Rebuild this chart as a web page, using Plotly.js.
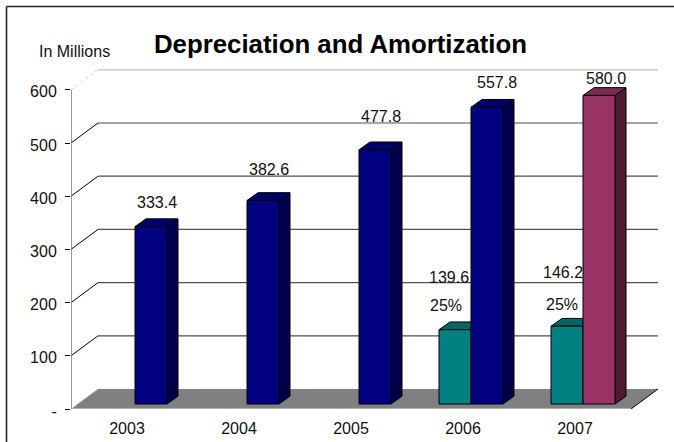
<!DOCTYPE html>
<html>
<head>
<meta charset="utf-8">
<script src="https://cdn.plot.ly/plotly-3.0.1.min.js"></script>
<style>html,body{margin:0;padding:0;background:#fff;overflow:hidden}</style>
</head>
<body>
<div id="chart" style="width:674px;height:442px"></div>
<script>
// Data
const years = ['2003', '2004', '2005', '2006', '2007'];
const totals = [333.4, 382.6, 477.8, 557.8, 580.0];
const portion = [null, null, null, 139.6, 146.2];
const totalLabels = ['333.4', '382.6', '477.8', '557.8', '580.0'];
const portionLabels = [null, null, null, '139.6', '146.2'];
const percentLabels = [null, null, null, '25%', '25%'];
const yTicks = [0, 100, 200, 300, 400, 500, 600];
const yTickText = ['-', '100', '200', '300', '400', '500', '600'];

// Label placement in axis units
const totalLabelX = [0.268, 1.268, 2.268, 3.304, 4.277];
const totalLabelY = [389, 451, 549, 613, 622];
const portionLabelX = [null, null, null, 2.875, 3.893];
const portionLabelY = [null, null, null, 248, 256];
const percentLabelX = [null, null, null, 2.848, 3.884];
const percentLabelY = [null, null, null, 194, 195.5];

// Styles
const totalColors = ['#000080', '#000080', '#000080', '#000080', '#993366'];
const totalTops = ['#000066', '#000066', '#000066', '#000066', '#7a2952'];
const totalSides = ['#00004d', '#00004d', '#00004d', '#00004d', '#4d1a33'];
const portionColor = '#008080', portionTop = '#006666';

// Geometry in axis units (112px per category, 0.532px per unit)
const pxX = 112, pxY = 0.532;
const barW = 32 / pxX, off1 = -24 / pxX, off2 = 8 / pxX;
const baseLift = 9.4, barDX = 11 / pxX, barDY = 7.8 / pxY;
const wallDX = 27 / pxX, wallDY = 20 / pxY;
const left = -0.5, right = 4.5;
const font = 'Liberation Sans, Arial, sans-serif';

const poly = pts => 'M' + pts.map(p => p[0] + ',' + p[1]).join('L') + 'Z';
const shapes = [];

// Outer frame (top and left edges run off the picture)
const paperX = px => (px - 71) / 589, paperY = py => (409 - py) / 349;
shapes.push({type:'line', xref:'paper', yref:'paper', layer:'below',
  x0:paperX(6.5), x1:paperX(676), y0:paperY(6.5), y1:paperY(6.5), line:{color:'#222', width:1.6}});
shapes.push({type:'line', xref:'paper', yref:'paper', layer:'below',
  x0:paperX(6.5), x1:paperX(6.5), y0:paperY(6.5), y1:paperY(444), line:{color:'#222', width:1.6}});

// Floor
shapes.push({type:'path', xref:'x', yref:'y', layer:'below',
  path: poly([[left,0],[right,0],[right+wallDX,wallDY],[left+wallDX,wallDY]]),
  fillcolor:'#808080', line:{width:0}});
shapes.push({type:'line', xref:'x', yref:'y', layer:'below', x0:left, x1:right, y0:-1, y1:-1,
  line:{color:'#dddddd', width:2}});
shapes.push({type:'line', xref:'x', yref:'y', layer:'below', x0:right, x1:right+wallDX, y0:0, y1:wallDY,
  line:{color:'#000', width:1}});

// Gridlines on the back wall and their run to the front axis
yTicks.forEach(v => {
  if (v === 0) return;
  const top = v === 600;
  shapes.push({type:'line', xref:'x', yref:'y', layer:'below',
    x0:left+wallDX, x1:right+wallDX, y0:v+wallDY, y1:v+wallDY,
    line:{color: top ? '#cccccc' : '#505050', width: top ? 1.5 : 1.2}});
  shapes.push({type:'line', xref:'x', yref:'y', layer:'below',
    x0:left, x1:left+wallDX, y0:v, y1:v+wallDY,
    line:{color: top ? '#cccccc' : '#000', width:1, dash: top ? 'dot' : 'solid'}});
});

// Front vertical axis
shapes.push({type:'line', xref:'x', yref:'y', layer:'below', x0:left, x1:left, y0:0, y1:600,
  line:{color:'#808080', width:1.6}});

// Tops and sides of bars, drawn beneath the bar fronts
function faces(i, offset, value, topColor, sideColor, withSide) {
  const x0 = i + offset, x1 = x0 + barW, b = baseLift, t = value + baseLift;
  if (withSide) shapes.push({type:'path', xref:'x', yref:'y', layer:'below',
    path: poly([[x1,b],[x1+barDX,b+barDY],[x1+barDX,t+barDY],[x1,t]]),
    fillcolor: sideColor, line:{color:'#000', width:1}});
  shapes.push({type:'path', xref:'x', yref:'y', layer:'below',
    path: poly([[x0,t],[x1,t],[x1+barDX,t+barDY],[x0+barDX,t+barDY]]),
    fillcolor: topColor, line:{color:'#000', width:1}});
}
portion.forEach((v, i) => { if (v !== null) faces(i, off1, v, portionTop, portionTop, false); });
totals.forEach((v, i) => faces(i, off2, v, totalTops[i], totalSides[i], true));

const xs = years.map((_, i) => i);
const traces = [
  {type:'bar', x:xs, y:portion, base:xs.map(() => baseLift), width:barW, offset:off1,
   marker:{color:portionColor, line:{color:'#000', width:1}}, hoverinfo:'skip'},
  {type:'bar', x:xs, y:totals, base:xs.map(() => baseLift), width:barW, offset:off2,
   marker:{color:totalColors, line:{color:'#000', width:1}}, hoverinfo:'skip'}
];

function labels(txt, xv, yv) {
  return txt.map((t, i) => t === null ? null : ({
    text:t, x:xv[i], y:yv[i], xref:'x', yref:'y', showarrow:false,
    xanchor:'center', yanchor:'middle', font:{family:font, size:16, color:'#111'}
  })).filter(Boolean);
}
const annotations = [].concat(
  labels(totalLabels, totalLabelX, totalLabelY),
  labels(portionLabels, portionLabelX, portionLabelY),
  labels(percentLabels, percentLabelX, percentLabelY),
  [{text:'In Millions', xref:'paper', yref:'paper', x:paperX(74.5), y:paperY(51),
    showarrow:false, xanchor:'center', yanchor:'middle', font:{family:font, size:16, color:'#111'}}]
);

const layout = {
  width:674, height:442, showlegend:false, barmode:'overlay',
  paper_bgcolor:'#fff', plot_bgcolor:'rgba(0,0,0,0)',
  margin:{l:71, r:14, t:60, b:33, pad:0},
  title:{text:'Depreciation and Amortization', x:340.5/674, xanchor:'center', xref:'container',
    y:1-44/442, yanchor:'middle', font:{family:font, size:25.8, weight:700, color:'#000'}},
  xaxis:{type:'linear', range:[left, left + 589/pxX], tickmode:'array', tickvals:xs, ticktext:years,
    showgrid:false, zeroline:false, showline:false, ticks:'', ticklabelstandoff:8,
    tickfont:{family:font, size:16, color:'#111'}, fixedrange:true},
  yaxis:{type:'linear', range:[0, 349/pxY], tickmode:'array', tickvals:yTicks, ticktext:yTickText,
    showgrid:false, zeroline:false, showline:false, ticks:'outside', ticklen:5, tickwidth:1, tickcolor:'#000',
    ticklabelstandoff:5, ticklabelshift:2, tickfont:{family:font, size:16, color:'#111'}, fixedrange:true},
  shapes:shapes, annotations:annotations
};
Plotly.newPlot('chart', traces, layout, {displayModeBar:false, staticPlot:true});
</script>
</body>
</html>
